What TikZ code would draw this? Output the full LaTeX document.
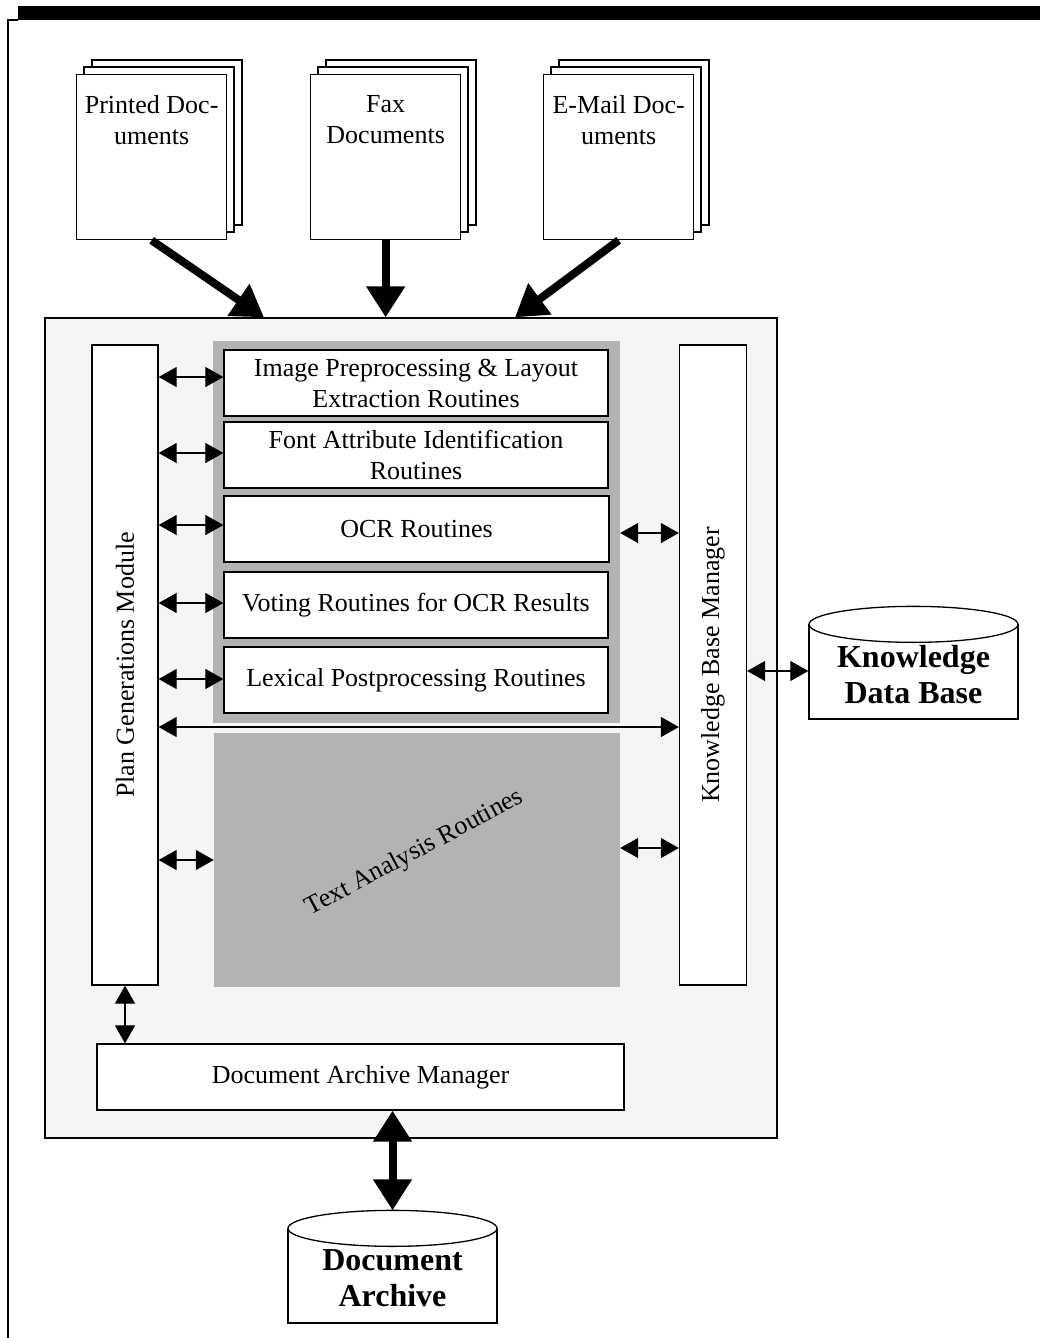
\documentclass[tikz,border=0pt]{standalone}
\usepackage{fontspec}
\setmainfont{Liberation Serif}
\usetikzlibrary{arrows.meta}
\definecolor{panelbg}{RGB}{245,245,245}
\definecolor{midgray}{RGB}{179,179,179}
\newcommand\ntxt{\fontsize{26}{31}\selectfont}
\newcommand\btxt{\fontsize{32}{36}\selectfont\bfseries}
\tikzset{
  lw/.style={line width=1.3pt},
  wbox/.style={draw, lw, fill=white, inner sep=0pt, align=center, font=\ntxt},
  page/.style={draw, lw, fill=white, minimum width=150pt, minimum height=165pt, inner sep=0pt},
  doctext/.style={font=\ntxt, align=center, anchor=north, inner sep=0pt},
  graybox/.style={fill=midgray, inner sep=0pt},
  dbl/.style={line width=1.2pt, {Triangle[length=18pt,width=20pt]}-{Triangle[length=18pt,width=20pt]}},
  bigarrow/.style={line width=8pt, -{Triangle[length=31pt,width=37pt]}},
  bigdbl/.style={line width=8pt, {Triangle[length=31pt,width=37pt]}-{Triangle[length=31pt,width=37pt]}},
  cylbody/.style={draw, lw, fill=white, minimum width=209pt, minimum height=94pt, inner sep=0pt},
}
\begin{document}
\begin{tikzpicture}[x=1pt,y=-1pt]
\useasboundingbox (0,0) rectangle (1040,1338);
% frame
\fill (18,6) rectangle (1040,20);
\draw[line width=2pt] (8,1338) -- (8,20) -- (18,20);

% document stacks
\draw[lw, fill=white] (92,60) rectangle ++(150,165);
\draw[lw, fill=white] (84,67) rectangle ++(150,165);
\node[page, anchor=north west] (pd) at (76,74) {};
\node[doctext] at ([yshift=-21pt]pd.north) {Printed Doc-\\uments};

\draw[lw, fill=white] (326,60) rectangle ++(150,165);
\draw[lw, fill=white] (318,67) rectangle ++(150,165);
\node[page, anchor=north west] (fd) at (310,74) {};
\node[doctext] at ([yshift=-21pt]fd.north) {Fax\\Documents};

\draw[lw, fill=white] (559,60) rectangle ++(150,165);
\draw[lw, fill=white] (551,67) rectangle ++(150,165);
\node[page, anchor=north west] (ed) at (543,74) {};
\node[doctext] at ([yshift=-21pt]ed.north) {E-Mail Doc-\\uments};

% main box
\node[draw, lw, fill=panelbg, minimum width=732pt, minimum height=820pt, inner sep=0pt] (main) at (411,728) {};

% input arrows
\draw[bigarrow] (pd.south) -- (main.north -| 264,0);
\draw[bigarrow] (fd.south) -- (main.north -| fd.south);
\draw[bigarrow] (ed.south) -- (main.north -| 515,0);

% side modules
\node[wbox, minimum width=66pt, minimum height=640pt] (pgm) at (125,665) {};
\node[font=\ntxt, rotate=90] at (pgm.center) {Plan Generations Module};
\node[wbox, minimum width=67pt, minimum height=640pt] (kbm) at (713,665) {};
\node[font=\ntxt, rotate=90] at (kbm.center) {Knowledge Base Manager};

% routines panel
\node[graybox, minimum width=407pt, minimum height=382pt] (panel) at (416.5,532) {};
\node[wbox, minimum width=384pt, minimum height=66pt] (b1) at (416,383) {Image Preprocessing \& Layout\\Extraction Routines};
\node[wbox, minimum width=384pt, minimum height=66pt] (b2) at (416,455) {Font Attribute Identification\\Routines};
\node[wbox, minimum width=385pt, minimum height=66pt] (b3) at (416.5,529) {OCR Routines};
\node[wbox, minimum width=384pt, minimum height=66pt] (b4) at (416,605) {Voting Routines for OCR Results};
\node[wbox, minimum width=384pt, minimum height=66pt] (b5) at (416,680) {Lexical Postprocessing Routines};

\node[graybox, minimum width=406pt, minimum height=254pt] (ta) at (417,860) {};
\node[font=\ntxt, rotate=28] at (415,853) {Text Analysis Routines};

\node[wbox, minimum width=527pt, minimum height=66pt] (dam) at (360.5,1077) {Document Archive Manager};

% cylinders
\node[cylbody] (kdb) at (913.5,672) {};
\draw[lw, fill=white] (kdb.north) ellipse [x radius=104.5pt, y radius=18pt];
\node[font=\btxt, align=center, inner sep=0pt] at (913.5,675) {Knowledge\\Data Base};

\node[cylbody] (da) at (392.5,1276) {};
\draw[lw, fill=white] (da.north) ellipse [x radius=104.5pt, y radius=18pt];
\node[font=\btxt, align=center, inner sep=0pt] at (392.5,1278) {Document\\Archive};
\coordinate (datop) at ([yshift=18pt]da.north);

% connectors
\draw[dbl] (pgm.east |- 0,377) -- (b1.west |- 0,377);
\draw[dbl] (pgm.east |- 0,453) -- (b2.west |- 0,453);
\draw[dbl] (pgm.east |- 0,525) -- (b3.west |- 0,525);
\draw[dbl] (pgm.east |- 0,603) -- (b4.west |- 0,603);
\draw[dbl] (pgm.east |- 0,679) -- (b5.west |- 0,679);
\draw[dbl] (pgm.east |- 0,727) -- (kbm.west |- 0,727);
\draw[dbl] (pgm.east |- 0,860) -- (ta.west |- 0,860);
\draw[dbl] (panel.east |- 0,533) -- (kbm.west |- 0,533);
\draw[dbl] (ta.east |- 0,848) -- (kbm.west |- 0,848);
\draw[dbl] (kbm.east |- 0,671) -- (kdb.west |- 0,671);
\draw[dbl] (pgm.south) -- (dam.north -| pgm.south);
\draw[bigdbl] (dam.south -| datop) -- (datop);
\end{tikzpicture}
\end{document}
